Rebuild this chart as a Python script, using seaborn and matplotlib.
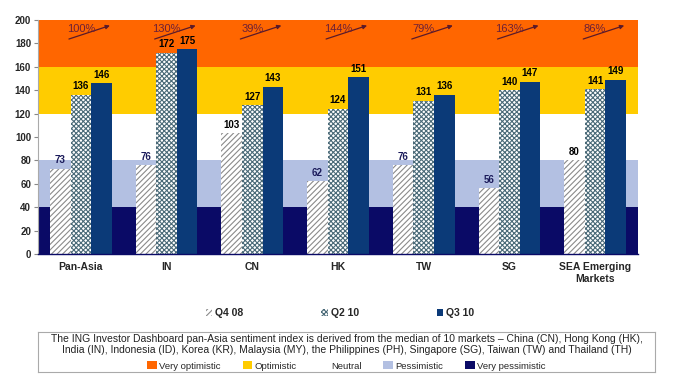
import matplotlib
matplotlib.use("Agg")
import matplotlib.pyplot as plt
import matplotlib.patches as mpatches
import seaborn as sns
import pandas as pd

categories = ["Pan-Asia", "IN", "CN", "HK", "TW", "SG", "SEA Emerging\nMarkets"]
q4_08 = [73, 76, 103, 62, 76, 56, 80]
q2_10 = [136, 172, 127, 124, 131, 140, 141]
q3_10 = [146, 175, 143, 151, 136, 147, 149]
series_names = ["Q4 08", "Q2 10", "Q3 10"]
changes = ["100%", "130%", "39%", "144%", "79%", "163%", "86%"]
yticks = list(range(0, 201, 20))
bands = [(160, 200, "#FF6600", "Very optimistic"),
         (120, 160, "#FFCC00", "Optimistic"),
         (80, 120, "#FFFFFF", "Neutral"),
         (40, 80, "#B3C0E2", "Pessimistic"),
         (0, 40, "#0A0A66", "Very pessimistic")]

sns.set_style("white")
plt.rcParams["font.family"] = ["Liberation Sans Narrow", "Liberation Sans", "DejaVu Sans"]
plt.rcParams["hatch.linewidth"] = 0.8

rows = []
for vals, name in zip([q4_08, q2_10, q3_10], series_names):
    for c, v in zip(categories, vals):
        rows.append({"market": c, "period": name, "value": v})
df = pd.DataFrame(rows)

fig = plt.figure(figsize=(6.87, 3.91), dpi=100)
ax = fig.add_axes([38/687, 1-254/391, 600/687, 234/391])

for lo, hi, col, _ in bands:
    ax.axhspan(lo, hi, color=col, zorder=0, lw=0)

face = {"Q4 08": "#FFFFFF", "Q2 10": "#FFFFFF", "Q3 10": "#0B3A78"}
edge = {"Q4 08": "#8A8A8A", "Q2 10": "#4A6A78", "Q3 10": "#0B3A78"}
hatch = {"Q4 08": "//////", "Q2 10": "xxxxxxx", "Q3 10": None}

sns.barplot(data=df, x="market", y="value", hue="period", hue_order=series_names,
            palette=["#FFFFFF", "#FFFFFF", "#0B3A78"], width=0.72, ax=ax,
            legend=False, zorder=2, saturation=1)

for cont, name in zip(ax.containers, series_names):
    for p in cont.patches:
        p.set_facecolor(face[name])
        p.set_edgecolor(edge[name])
        p.set_linewidth(0)
        if hatch[name]:
            p.set_hatch(hatch[name])
    for p in cont.patches:
        h = p.get_height()
        col = "#1A1A5A" if 40 <= h < 80 else "black"
        ax.text(p.get_x() + p.get_width()/2, h + 3, f"{int(round(h))}",
                ha="center", va="bottom", fontsize=7, fontweight="bold", color=col, zorder=5)

for i, t in enumerate(changes):
    ax.annotate("", xy=(i + 0.37, 196), xytext=(i - 0.17, 183),
                arrowprops=dict(arrowstyle="-|>", color="#5A1A2A", lw=0.9, mutation_scale=6),
                zorder=5)
    ax.text(i + 0.0, 192, t, ha="center", va="center", fontsize=8, color="#6B2038", zorder=6)

ax.set_ylim(0, 200)
ax.set_xlim(-0.5, len(categories) - 0.5)
ax.set_yticks(yticks)
ax.set_yticklabels([str(v) for v in yticks], fontsize=7, fontweight="bold")
ax.tick_params(axis="y", length=3, direction="out", left=True, color="#888888", pad=2)
ax.tick_params(axis="x", length=0, pad=6)
for lbl in ax.get_xticklabels():
    lbl.set_fontsize(7.5)
    lbl.set_fontweight("bold")
ax.set_xlabel("")
ax.set_ylabel("")
for s in ["top", "right"]:
    ax.spines[s].set_visible(False)
ax.spines["left"].set_color("#AAAAAA")
ax.spines["left"].set_linewidth(0.8)
ax.spines["bottom"].set_color("#0A0A66")
ax.spines["bottom"].set_linewidth(1.0)

handles = []
for name in series_names:
    handles.append(mpatches.Patch(facecolor=face[name], edgecolor=edge[name],
                                  hatch=hatch[name], lw=0, label=name))
fig.legend(handles=handles, loc="center", bbox_to_anchor=(0.495, 1-313/391), ncol=3,
           frameon=False, handlelength=0.6, handleheight=0.6,
           handletextpad=0.3, columnspacing=7.5, prop={"weight": "bold", "size": 7.5})

bx = fig.add_axes([38/687, 1-372/391, 617/687, 40/391])
bx.set_xticks([])
bx.set_yticks([])
for s in bx.spines.values():
    s.set_color("#AAAAAA")
    s.set_linewidth(0.8)
bx.text(0.5, 0.69, "The ING Investor Dashboard pan-Asia sentiment index is derived from the median of 10 markets – China (CN), Hong Kong (HK),\n"
        "India (IN), Indonesia (ID), Korea (KR), Malaysia (MY), the Philippines (PH), Singapore (SG), Taiwan (TW) and Thailand (TH)",
        ha="center", va="center", fontsize=7.5, color="#222222", transform=bx.transAxes, linespacing=1.1)
band_handles = [mpatches.Patch(facecolor=c, edgecolor="none", label=l) for _, _, c, l in bands]
bx.legend(handles=band_handles, loc="center", bbox_to_anchor=(0.5, 0.15), ncol=5, frameon=False,
          fontsize=6.8, handlelength=1.0, handleheight=0.9, handletextpad=0.3, columnspacing=2.3)

fig.savefig("out.png", dpi=100)
